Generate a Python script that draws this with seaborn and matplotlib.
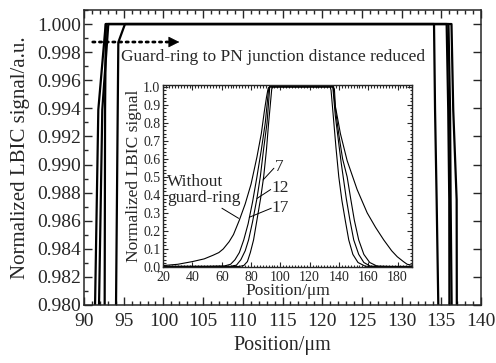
import matplotlib
matplotlib.use('Agg')
import matplotlib.pyplot as plt
import seaborn as sns
import pandas as pd
from matplotlib.ticker import MultipleLocator

# LBIC line profiles: position (um) vs normalized signal
x_without = [20, 30, 40, 48, 54, 58, 61, 65, 68, 72, 76, 80, 84, 87, 89, 90.5, 91.39, 91.80, 92.73,
             136.28, 136.5, 136.93, 136.95, 137.6, 141, 145.6, 152.4, 159.3, 165, 170.6, 176, 179.8, 184, 186.6, 190]
y_without = [0.008, 0.015, 0.03, 0.045, 0.065, 0.08, 0.10, 0.14, 0.18, 0.26, 0.35, 0.46, 0.61, 0.74, 0.86, 0.94, 0.980, 0.9939, 1.0,
             1.0, 0.9939, 0.9875, 0.980, 0.89, 0.74, 0.59, 0.43, 0.30, 0.22, 0.15, 0.09, 0.057, 0.03, 0.015, 0.01]

x_17 = [20, 50, 62, 66, 69, 72, 75, 78, 81, 84, 87, 89.7, 91.89, 92.30, 93.06,
        135.9, 136.1, 136.17, 136.3, 138, 140, 142.5, 145.6, 148, 150.5, 153.5, 157, 161, 166, 175, 190]
y_17 = [0.004, 0.004, 0.006, 0.015, 0.04, 0.08, 0.15, 0.24, 0.36, 0.50, 0.65, 0.80, 0.980, 0.9939, 1.0,
        1.0, 0.9939, 0.9875, 0.980, 0.85, 0.73, 0.60, 0.50, 0.38, 0.26, 0.15, 0.07, 0.025, 0.005, 0.003, 0.003]

x_12 = [20, 60, 66, 70, 73, 76, 78.3, 81, 84, 86.3, 88.5, 90.9, 92.6, 92.65, 92.75,
        135.67, 135.87, 136.0, 136.02, 137.5, 139.5, 141.5, 142.9, 145, 147.5, 150.1, 153.5, 157, 161.5, 170, 190]
y_12 = [0.003, 0.003, 0.004, 0.01, 0.04, 0.09, 0.15, 0.25, 0.38, 0.50, 0.65, 0.80, 0.980, 0.9939, 1.0,
        1.0, 0.9939, 0.9875, 0.980, 0.84, 0.71, 0.58, 0.50, 0.38, 0.26, 0.15, 0.07, 0.025, 0.004, 0.003, 0.003]

x_7 = [20, 65, 72, 75, 77.5, 79.5, 81.7, 84, 86.5, 88.6, 90.5, 92, 94.03, 94.32, 95.16,
       134.08, 134.21, 134.41, 134.62, 136, 138, 139.9, 142, 144.5, 146.7, 149.5, 153, 158, 170, 190]
y_7 = [0.002, 0.002, 0.003, 0.008, 0.03, 0.08, 0.15, 0.26, 0.38, 0.50, 0.65, 0.80, 0.980, 0.9987, 1.0,
       1.0, 0.9939, 0.9875, 0.980, 0.85, 0.66, 0.50, 0.37, 0.25, 0.15, 0.07, 0.025, 0.004, 0.002, 0.002]

curve_names = ['Without guard-ring', '17', '12', '7']

# inset labels: text, text position, pointer start, pointer end on curve
label_texts = ['Without\nguard-ring', '7', '12', '17']
label_pos = [(22.5, 0.4275), (96.3, 0.553), (93.8, 0.437), (94.2, 0.326)]
pointer_from = [(60.1, 0.326), (95.6, 0.548), (93.4, 0.43), (93.8, 0.326)]
pointer_to = [(71.5, 0.27), (88.2, 0.483), (84.0, 0.38), (78.8, 0.276)]

arrow_start = (91.1, 0.99872)
arrow_head_base = (100.9, 0.99872)
arrow_end = (102.0, 0.99872)
arrow_text = 'Guard-ring to PN junction distance reduced'
arrow_text_pos = (94.6, 0.99765)

sns.set_style('ticks')
plt.rcParams['font.family'] = ['Liberation Serif', 'DejaVu Serif']
plt.rcParams['axes.linewidth'] = 1.1

frames = []
for name, xs, ys in zip(curve_names, [x_without, x_17, x_12, x_7], [y_without, y_17, y_12, y_7]):
    frames.append(pd.DataFrame({'pos': xs, 'signal': ys, 'curve': name}))
df = pd.concat(frames, ignore_index=True)

fig = plt.figure(figsize=(4.96, 3.63), dpi=100)

# main (zoomed) axes
ax = fig.add_axes([0.1694, 0.1598, 0.8004, 0.8127])
sns.lineplot(data=df, x='pos', y='signal', units='curve', estimator=None, sort=False,
             color='black', lw=1.6, ax=ax)
ax.set_xlim(90, 140)
ax.set_ylim(0.980, 1.001)
ax.xaxis.set_major_locator(MultipleLocator(5))
ax.xaxis.set_minor_locator(MultipleLocator(1))
ax.yaxis.set_major_locator(MultipleLocator(0.002))
ax.yaxis.set_minor_locator(MultipleLocator(0.001))
ax.yaxis.set_major_formatter('{x:.3f}')
ax.tick_params(which='both', direction='in', top=True, right=True, width=1)
ax.tick_params(which='major', length=6, labelsize=14)
ax.tick_params(which='minor', length=3, right=False)
ax.tick_params(axis='x', pad=6)
ax.tick_params(axis='y', pad=2)
ax.set_xlabel('Position/μm', fontsize=14.5, labelpad=4)
ax.set_ylabel('Normalized LBIC signal/a.u.', fontsize=15, labelpad=5)

# dotted arrow: dotted shaft + solid head
ax.annotate('', xy=arrow_head_base, xytext=arrow_start,
            arrowprops=dict(arrowstyle='-', lw=2, linestyle=(0, (0.8, 1.6)),
                            color='black', shrinkA=0, shrinkB=0))
ax.annotate('', xy=arrow_end, xytext=arrow_head_base,
            arrowprops=dict(arrowstyle='-|>,head_length=0.7,head_width=0.35', lw=0.5,
                            color='black', shrinkA=0, shrinkB=0))
ax.text(arrow_text_pos[0], arrow_text_pos[1], arrow_text, fontsize=12.5, va='center', ha='left')

# inset with full profiles
axin = fig.add_axes([0.329, 0.2645, 0.502, 0.5014])
axin.set_facecolor('white')
sns.lineplot(data=df, x='pos', y='signal', units='curve', estimator=None, sort=False,
             color='black', lw=0.8, ax=axin)
axin.set_xlim(20, 190)
axin.set_ylim(0, 1.01)
axin.xaxis.set_major_locator(MultipleLocator(20))
axin.xaxis.set_minor_locator(MultipleLocator(2))
axin.yaxis.set_major_locator(MultipleLocator(0.1))
axin.yaxis.set_minor_locator(MultipleLocator(0.02))
axin.yaxis.set_major_formatter('{x:.1f}')
axin.tick_params(which='both', direction='in', top=True, right=True, width=0.8)
axin.tick_params(which='major', length=3.5, labelsize=10)
axin.tick_params(axis='x', pad=3)
axin.tick_params(axis='y', pad=2)
axin.tick_params(which='minor', length=1.8)
for s in axin.spines.values():
    s.set_linewidth(1.0)
axin.set_xlabel('Position/μm', fontsize=12.5, labelpad=-1)
axin.set_ylabel('Normalized LBIC signal', fontsize=12.5, labelpad=1)

for txt, pos, p0, p1 in zip(label_texts, label_pos, pointer_from, pointer_to):
    axin.text(pos[0], pos[1], txt, fontsize=12.5, va='center', ha='left', linespacing=1.0)
    axin.annotate('', xy=p1, xytext=p0,
                  arrowprops=dict(arrowstyle='-', lw=0.7, color='black', shrinkA=0, shrinkB=0))

fig.savefig('out.png', dpi=100)
